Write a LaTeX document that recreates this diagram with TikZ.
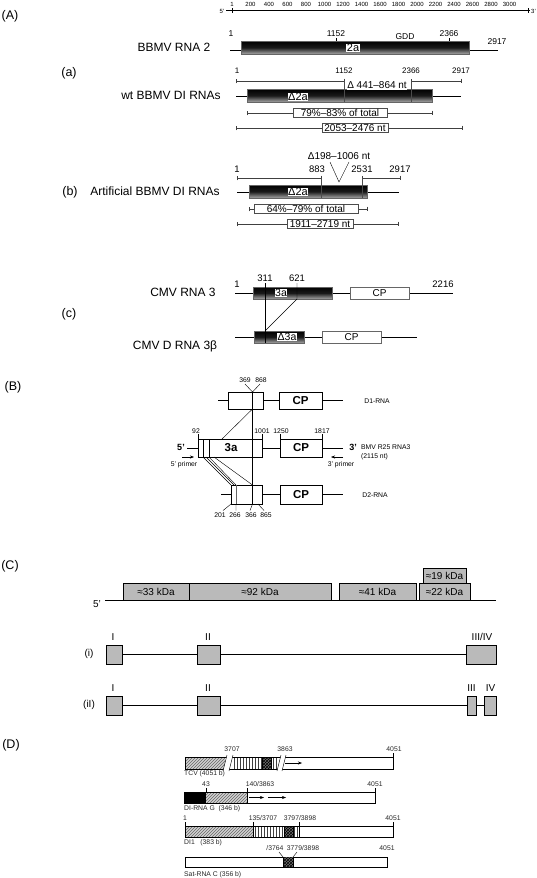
\documentclass[tikz,border=0pt]{standalone}
\usepackage{fontspec}
\setmainfont{Liberation Sans}
\usetikzlibrary{patterns,arrows.meta}
\begin{document}
\begin{tikzpicture}[x=1pt,y=-1pt,
 lbl/.style={font=\fontsize{12}{14}\selectfont, inner sep=0pt},
 sect/.style={font=\fontsize{12.5}{14}\selectfont, inner sep=0pt},
 numr/.style={font=\fontsize{8.5}{9}\selectfont, inner sep=0pt},
 numa/.style={font=\fontsize{8}{9}\selectfont, inner sep=0pt},
 numb/.style={font=\fontsize{9.5}{10}\selectfont, inner sep=0pt},
 midlbl/.style={font=\fontsize{10}{11}\selectfont, inner sep=0pt},
 scl/.style={font=\fontsize{6}{7}\selectfont, inner sep=0pt},
 tiny/.style={font=\fontsize{6.8}{8}\selectfont, inner sep=0pt},
 orf/.style={draw=black!60, top color=black, bottom color=black!35, middle color=black!90},
 onorf/.style={fill=white, inner sep=0.6pt, font=\fontsize{11}{12}\selectfont},
 brk/.style={draw=black!75, |-|},
 pctbox/.style={draw=black!70, fill=white, inner ysep=1pt, inner xsep=0pt, font=\fontsize{10}{11}\selectfont},
 wcp/.style={draw=black!60, fill=white},
 bbox/.style={draw, line width=1pt, fill=white},
 gbox/.style={draw, line width=1pt, fill=black!27},
 bld/.style={font=\fontsize{11.5}{12}\selectfont\bfseries, inner sep=0pt},
 hatch/.style={pattern=north east lines, pattern color=black!60},
 vstripe/.style={pattern=vertical lines, pattern color=black!75},
 dlbl/.style={font=\fontsize{6.8}{8}\selectfont, inner sep=0pt, text=black!85},
]
\useasboundingbox (0,0) rectangle (536,878);

%================ (A) =================
\node[sect] (A) at (10,16) {(A)};
% scale bar
\draw[line width=0.7pt] (226,10.5) coordinate (s0) -- (530,10.5) coordinate (s1);
\draw (232,8) -- (232,13) (528,8) -- (528,13);
\node[scl] (s5) at (222,11.5) {5'};
\node[scl] (s3) at (533.5,11.5) {3'};
\foreach \v [count=\i from 0] in {1,200,400,600,800,1000,1200,1400,1600,1800,2000,2200,2400,2600,2800,3000}
  \node[scl] at ({232+\i*18.5},4.5) {\v};

% BBMV RNA 2
\node[lbl] (r2) at (174,47) {BBMV RNA 2};
\draw (230,50) -- (498,50);
\path[orf] (241,41) rectangle (469,54);
\node[onorf] (r2a) at (353,48) {2a};
\node[numr] (r2n1) at (231,34) {1};
\node[numr] (r2n2) at (336,34) {1152};
\node[numr] (r2n3) at (405,37) {GDD};
\node[numr] (r2n4) at (449,34) {2366};
\node[numr] (r2n5) at (497,42) {2917};
\draw (336,38) -- (336,41) (449,38) -- (449,41);

% (a)
\node[sect] (la) at (69,73) {(a)};
\node[lbl] (wt) at (171,95) {wt BBMV DI RNAs};
\node[numa] (an1) at (237,71) {1};
\node[numa] (an2) at (344,71) {1152};
\node[numa] (an3) at (411,71) {2366};
\node[numa] (an4) at (461,71) {2917};
\draw[brk] (236,81) -- (344,81);
\draw[brk] (411,81) -- (461,81);
\draw (236,96) -- (461,96);
\path[orf] (247,89) rectangle (432,102);
\draw[black!70] (344,81) -- (344,102) (411,81) -- (411,102);
\node[midlbl, fill=white, inner sep=0.5pt] (adel) at (377,85.5) {Δ 441–864 nt};
\node[onorf] (a2a) at (298,97) {Δ2a};
\draw[brk] (247,113) -- (432,113);
\node[pctbox, minimum width=94pt] (apct) at (340,113) {79\%–83\% of total};
\draw[brk] (236,128) -- (462,128);
\node[pctbox, minimum width=66pt] (ant) at (355,128) {2053–2476 nt};

% (b)
\node[sect] (lb) at (70,192) {(b)};
\node[lbl] (art) at (155,191) {Artificial BBMV DI RNAs};
\node[midlbl] (bdel) at (339,156) {Δ198–1006 nt};
\node[numb] (bn1) at (237,169) {1};
\node[numb] (bn2) at (317,169) {883};
\node[numb] (bn3) at (362,169) {2531};
\node[numb] (bn4) at (400,169) {2917};
\draw (330,162) -- (339,182) -- (349,162);
\draw[brk] (237,178) -- (321,178);
\draw[brk] (362,178) -- (400,178);
\draw (237,192) -- (399,192);
\path[orf] (249,185) rectangle (367,198);
\draw[black!70] (321,178) -- (321,198) (362,178) -- (362,198);
\node[onorf] (b2a) at (298,192) {Δ2a};
\draw[brk] (249,209) -- (367,209);
\node[pctbox, minimum width=104pt] (bpct) at (306,209) {64\%–79\% of total};
\draw[brk] (237,224) -- (398,224);
\node[pctbox, minimum width=66pt] (bnt) at (320,224) {1911–2719 nt};

% (c)
\node[sect] (lc) at (69,314) {(c)};
\node[lbl] (cmv) at (183,292) {CMV RNA 3};
\node[lbl] (cmvd) at (175,346) {CMV D RNA 3β};
\node[numb] (cn1) at (237,284) {1};
\node[numb] (cn2) at (265,278) {311};
\node[numb] (cn3) at (297,278) {621};
\node[numb] (cn4) at (443,284) {2216};
\draw (235,293) -- (453,293);
\path[orf] (253,287) rectangle (332,299);
\node[wcp, minimum width=59pt, minimum height=12pt, inner sep=0pt, font=\fontsize{10}{11}\selectfont] (ccp) at (379.5,293) {CP};
\node[onorf, font=\fontsize{10.5}{11}\selectfont] (c3a) at (281,293) {3a};
\draw (235,337) -- (417,337);
\path[orf] (254,331) rectangle (304,343);
\node[wcp, minimum width=59pt, minimum height=12pt, inner sep=0pt, font=\fontsize{10}{11}\selectfont] (dcp) at (351.5,337) {CP};
\node[onorf, font=\fontsize{10.5}{11}\selectfont] (d3a) at (287,337) {Δ3a};
\draw (265,283) -- (265,343);
\draw (297,283) -- (297,299) -- (265,331);

%================ (B) =================
\node[sect] (B) at (13,387) {(B)};
% D1
\draw (218,400) -- (343,400);
\node[bbox, minimum width=35pt, minimum height=17pt, inner sep=0pt] (d1a) at (245.5,400.5) {};
\node[bbox, minimum width=43pt, minimum height=17pt, inner sep=0pt, bld] (d1cp) at (300.5,400.5) {CP};
\node[tiny] (d1l) at (377,401) {D1-RNA};
\node[tiny] (n369) at (245,380) {369};
\node[tiny] (n868) at (261,380) {868};
\draw (245,384) -- (252.5,392) -- (260,384);
% middle
\draw (187,448) -- (343,448);
\node[bbox, minimum width=64pt, minimum height=18pt, inner sep=0pt] (m3a) at (230,448) {};
\node[bld] at (231,448) {3a};
\draw (203,439) -- (203,457) (209,439) -- (209,457);
\node[bbox, minimum width=42pt, minimum height=18pt, inner sep=0pt, bld] (mcp) at (301,448) {CP};
\node[font=\fontsize{9}{10}\selectfont\bfseries, inner sep=0pt] (m5) at (181,447) {5'};
\node[font=\fontsize{9}{10}\selectfont\bfseries, inner sep=0pt] (m3) at (353,447) {3'};
\node[tiny, anchor=west] (bmv) at (361,447) {BMV R25 RNA3};
\node[tiny, anchor=west] (bmvnt) at (361,456.5) {(2115 nt)};
\node[tiny] (n92) at (196,431) {92};
\node[tiny] (n1001) at (262,431) {1001};
\node[tiny] (n1250) at (281,431) {1250};
\node[tiny] (n1817) at (322,431) {1817};
\draw (198,434) -- (198,439) (262,434) -- (262,439) (280,434) -- (280,439) (322,434) -- (322,439);
\draw[-{Stealth[length=4pt,width=3pt]}] (182,457) -- (194,457);
\node[tiny] (p5) at (184,465) {5' primer};
\draw[-{Stealth[length=4pt,width=3pt]}] (343,457) -- (331,457);
\node[tiny] (p3) at (341,465) {3' primer};
% D2
\draw (221,494) -- (343,494);
\node[bbox, minimum width=31pt, minimum height=19pt, inner sep=0pt] (d2a) at (246.5,494.5) {};
\draw[black!60] (236,485) -- (236,504);
\node[bbox, minimum width=42pt, minimum height=19pt, inner sep=0pt, bld] (d2cp) at (301,494.5) {CP};
\node[tiny] (d2l) at (375,495) {D2-RNA};
\node[tiny] (n201) at (220,515) {201};
\node[tiny] (n266) at (235,515) {266};
\node[tiny] (n366) at (251,515) {366};
\node[tiny] (n865) at (266,515) {865};
\draw (223,510.5) -- (231,504) (236,510.5) -- (236,504) (250,510.5) -- (252.5,504) (264,510.5) -- (258,504);
% connectors
\draw (252.5,392) -- (252.5,504);
\draw (252.5,409) -- (222,439);
\draw (203,457) -- (231,485) (206,457) -- (234,485) (209,457) -- (236,485) (214,457) -- (252.5,485);

%================ (C) =================
\node[sect] (C) at (10,566) {(C)};
\node[font=\fontsize{10}{11}\selectfont, inner sep=0pt] (c5) at (97,604) {5'};
\draw (105,600) -- (496,600);
\node[gbox, minimum width=66pt, minimum height=17pt, inner sep=0pt, font=\fontsize{10}{11}\selectfont] (k33) at (156,591.5) {≈33 kDa};
\node[gbox, minimum width=142pt, minimum height=17pt, inner sep=0pt, font=\fontsize{10}{11}\selectfont] (k92) at (260,591.5) {≈92 kDa};
\node[gbox, minimum width=77pt, minimum height=17pt, inner sep=0pt, font=\fontsize{10}{11}\selectfont] (k41) at (377.5,591.5) {≈41 kDa};
\node[gbox, minimum width=51pt, minimum height=17pt, inner sep=0pt, font=\fontsize{10}{11}\selectfont] (k22) at (444.5,591.5) {≈22 kDa};
\node[gbox, minimum width=43pt, minimum height=15pt, inner sep=0pt, font=\fontsize{10}{11}\selectfont] (k19) at (444.5,575.5) {≈19 kDa};
% (i)
\node[midlbl] (ri) at (89,654) {(i)};
\node[gbox, minimum width=16pt, minimum height=19pt, inner sep=0pt] (i1) at (114,654.5) {};
\node[gbox, minimum width=23pt, minimum height=19pt, inner sep=0pt] (i2) at (208.5,654.5) {};
\node[gbox, minimum width=30pt, minimum height=19pt, inner sep=0pt] (i3) at (481,654.5) {};
\draw (i1) -- (i2) (i2) -- (i3);
\node[midlbl] at (113,637) {I};
\node[midlbl] at (208,637) {II};
\node[midlbl] at (482,637) {III/IV};
% (ii)
\node[midlbl] (rii) at (89,705) {(iI)};
\node[gbox, minimum width=16pt, minimum height=19pt, inner sep=0pt] (j1) at (114,705.5) {};
\node[gbox, minimum width=23pt, minimum height=19pt, inner sep=0pt] (j2) at (208.5,705.5) {};
\node[gbox, minimum width=9pt, minimum height=19pt, inner sep=0pt] (j3) at (471.5,705.5) {};
\node[gbox, minimum width=12pt, minimum height=19pt, inner sep=0pt] (j4) at (490.5,705.5) {};
\draw (j1) -- (j2) (j2) -- (j3) (j3) -- (j4);
\node[midlbl] at (113,688) {I};
\node[midlbl] at (208,688) {II};
\node[midlbl] at (471.5,688) {III};
\node[midlbl] at (490.5,688) {IV};

%================ (D) =================
\node[sect] (D) at (11,745) {(D)};
% TCV
\fill[black!18] (185,757) rectangle (225,769);
\fill[hatch] (185,757) rectangle (225,769);
\fill[vstripe] (232,757) rectangle (262,769);
\fill[black!55] (262,757) rectangle (271,769);
\fill[pattern=crosshatch, pattern color=black] (262,757) rectangle (271,769);
\fill[vstripe] (271,757) rectangle (278,769);
\draw (185,757) rectangle (393,769);
\draw (262,757) -- (262,769) (271,757) -- (271,769);
\fill[white] (223,771) -- (227,755) -- (233,755) -- (229,771) -- cycle;
\draw (223,771) -- (227,755) (229,771) -- (233,755);
\fill[white] (277,771) -- (281,755) -- (286,755) -- (282,771) -- cycle;
\draw (277,771) -- (281,755) (282,771) -- (286,755);
\draw[-{Stealth[length=4pt,width=3pt]}] (285,763) -- (302,763);
\node[dlbl] (t1) at (232,749) {3707};
\node[dlbl] (t2) at (285,749) {3863};
\node[dlbl] (t3) at (394,749) {4051};
\draw (393,753) -- (393,757);
\node[dlbl, anchor=west] (tcv) at (184,774) {TCV (4051 b)};
% DI-RNA G
\fill[black] (184,792) rectangle (206,803);
\fill[black!18] (206,792) rectangle (247,803);
\fill[hatch] (206,792) rectangle (247,803);
\draw (184,792) rectangle (375,803);
\draw (247,792) -- (247,803);
\draw (206,788) -- (206,792) (247,788) -- (247,792) (375,788) -- (375,792);
\draw[-{Stealth[length=4pt,width=3pt]}] (249,797.5) -- (264,797.5);
\draw[-{Stealth[length=4pt,width=3pt]}] (268,797.5) -- (286,797.5);
\node[dlbl] (g1) at (206,784) {43};
\node[dlbl] (g2) at (260,784) {140/3863};
\node[dlbl] (g3) at (375,784) {4051};
\node[dlbl, anchor=west] (dig) at (184,808.5) {DI-RNA G\ \ (346 b)};
% DI1
\fill[black!18] (185,826) rectangle (253,837);
\fill[hatch] (185,826) rectangle (253,837);
\fill[vstripe] (253,826) rectangle (284,837);
\fill[black!55] (284,826) rectangle (293,837);
\fill[pattern=crosshatch, pattern color=black] (284,826) rectangle (293,837);
\fill[vstripe] (293,826) rectangle (299,837);
\draw (185,826) rectangle (393,837);
\draw (253,826) -- (253,837) (284,826) -- (284,837) (293,826) -- (293,837) (299,826) -- (299,837);
\draw (185,822) -- (185,826) (253,822) -- (253,826) (299,822) -- (299,826) (393,822) -- (393,826);
\node[dlbl] (e1) at (185,818) {1};
\node[dlbl] (e2) at (263,818) {135/3707};
\node[dlbl] (e3) at (300,818) {3797/3898};
\node[dlbl] (e4) at (393,818) {4051};
\node[dlbl, anchor=west] (di1) at (184,843) {DI1\ \ \ (383 b)};
% Sat-RNA C
\draw (185,857) rectangle (387,867);
\fill[black!55] (283,857) rectangle (293,867);
\fill[pattern=crosshatch, pattern color=black] (283,857) rectangle (293,867);
\draw (283,857) -- (283,867) (293,857) -- (293,867);
\draw (279,852) -- (283,857) (297,852) -- (293,857);
\node[dlbl] (f1) at (275,848) {/3764};
\node[dlbl] (f2) at (303,848) {3779/3898};
\node[dlbl] (f3) at (387,848) {4051};
\node[dlbl, anchor=west] (sat) at (184,875) {Sat-RNA C (356 b)};
\end{tikzpicture}
\end{document}
